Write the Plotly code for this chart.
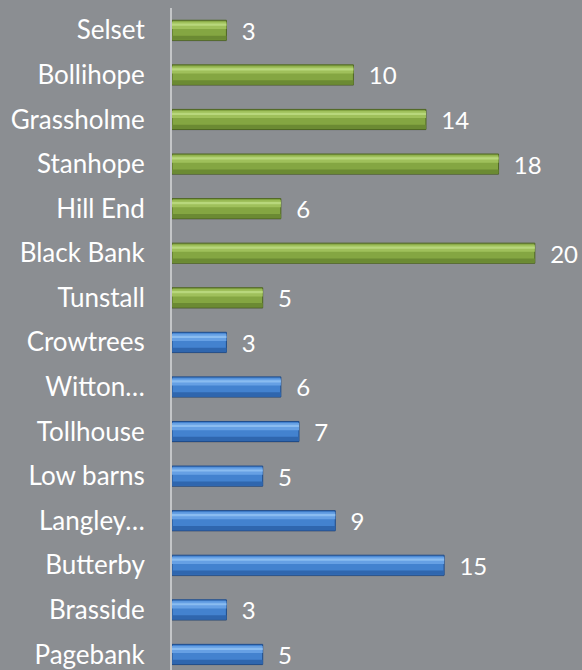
import plotly.graph_objects as go

categories = ["Pagebank", "Brasside", "Butterby", "Langley…", "Low barns", "Tollhouse",
              "Witton…", "Crowtrees", "Tunstall", "Black Bank", "Hill End", "Stanhope",
              "Grassholme", "Bollihope", "Selset"]
values = [5, 3, 15, 9, 5, 7, 6, 3, 5, 20, 6, 18, 14, 10, 3]
groups = ["blue"] * 8 + ["green"] * 7

palette = {
    "green": {"main": "#84a642", "edge": "#4f6623", "top": "#9fc05b", "hi": "#b8d77c", "bot": "#6b8a33"},
    "blue": {"main": "#4382cf", "edge": "#1f4c8a", "top": "#66a0e4", "hi": "#8abcf0", "bot": "#2f66ae"},
}

ypos = list(range(len(categories)))

def col(key):
    return [palette[g][key] for g in groups]

fig = go.Figure()
# shadow
fig.add_trace(go.Bar(x=values, y=ypos, orientation="h", width=0.45, offset=-0.245,
                     marker=dict(color="rgba(60,60,60,0.30)", line=dict(width=0)),
                     hoverinfo="skip", showlegend=False))
# main body with labels
fig.add_trace(go.Bar(x=values, y=ypos, orientation="h", width=0.45, offset=-0.225,
                     marker=dict(color=col("main"), line=dict(color=col("edge"), width=1)),
                     text=values, texttemplate="\u00a0\u00a0%{x}", textposition="outside",
                     constraintext="none",
                     textfont=dict(color="white", size=24, family="Lato"),
                     cliponaxis=False, showlegend=False))
# upper lighter band
fig.add_trace(go.Bar(x=values, y=ypos, orientation="h", width=0.16, offset=0.03,
                     marker=dict(color=col("top"), line=dict(width=0)),
                     hoverinfo="skip", showlegend=False))
# highlight stripe
fig.add_trace(go.Bar(x=values, y=ypos, orientation="h", width=0.05, offset=0.10,
                     marker=dict(color=col("hi"), line=dict(width=0)),
                     hoverinfo="skip", showlegend=False))
# bottom darker bevel
fig.add_trace(go.Bar(x=values, y=ypos, orientation="h", width=0.095, offset=-0.215,
                     marker=dict(color=col("bot"), line=dict(width=0)),
                     hoverinfo="skip", showlegend=False))

fig.update_layout(
    width=582, height=670,
    margin=dict(l=172, r=0, t=8, b=0),
    paper_bgcolor="#8b8e92", plot_bgcolor="#8b8e92",
    barmode="overlay",
    font=dict(family="Lato", color="white", size=26),
    xaxis=dict(range=[0, 22.6], showgrid=False, zeroline=False, showticklabels=False,
               showline=False, fixedrange=True),
    yaxis=dict(range=[-0.35, 14.5], tickvals=ypos, ticktext=categories,
               showgrid=False, zeroline=False, showline=True, linecolor="#c4c6c8",
               linewidth=2, ticks="", ticklabelstandoff=20, fixedrange=True,
               tickfont=dict(family="Lato", color="white", size=26)),
)

fig.write_html("out.html", config={"displayModeBar": False},
               post_script="document.body.style.margin='0';document.body.style.background='#8b8e92';")
